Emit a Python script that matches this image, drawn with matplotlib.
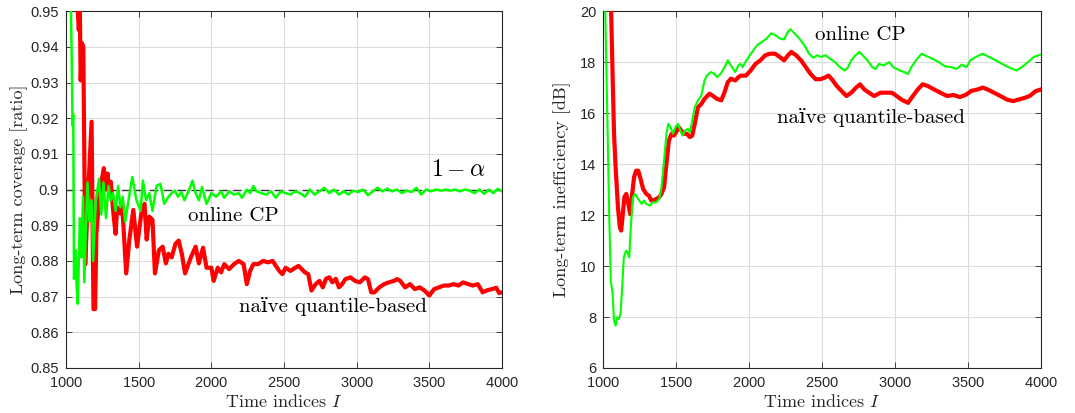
import matplotlib
matplotlib.use("Agg")
import matplotlib.pyplot as plt
from matplotlib.ticker import FuncFormatter

# long-term coverage, online CP
t_cov_online = [1000, 1030, 1040, 1045, 1050, 1055, 1066, 1073, 1081, 1095, 1106, 1117, 1126, 1139,
                1148, 1161, 1176, 1187, 1205, 1227, 1242, 1258, 1275, 1293, 1308, 1324, 1341, 1359,
                1374, 1390, 1407, 1430, 1456, 1485, 1513, 1529, 1551, 1573, 1595, 1623, 1650, 1676,
                1705, 1727, 1749, 1771, 1793, 1815, 1848, 1870, 1892, 1914, 1936, 1967, 2000, 2033,
                2067, 2089, 2122, 2156, 2189, 2211, 2244, 2267, 2289, 2311, 2344, 2378, 2411, 2444,
                2478, 2511, 2544, 2578, 2611, 2644, 2678, 2711, 2744, 2778, 2811, 2844, 2878, 2911,
                2944, 2978, 3011, 3044, 3078, 3111, 3144, 3178, 3211, 3244, 3278, 3311, 3344, 3378,
                3411, 3444, 3478, 3511, 3544, 3578, 3611, 3644, 3678, 3711, 3744, 3778, 3811, 3844,
                3878, 3911, 3940, 3970, 4000]
cov_online = [1.0, 0.96, 0.935, 0.918, 0.921, 0.875, 0.883, 0.873, 0.868, 0.892, 0.881, 0.898, 0.874, 0.892,
              0.902, 0.891, 0.897, 0.880, 0.897, 0.903, 0.893, 0.902, 0.892, 0.901, 0.897, 0.899, 0.894, 0.901,
              0.895, 0.898, 0.891, 0.897, 0.9035, 0.897, 0.894, 0.9025, 0.897, 0.899, 0.894, 0.901, 0.9016, 0.896,
              0.898, 0.899, 0.8997, 0.898, 0.8993, 0.897, 0.900, 0.9025, 0.899, 0.897, 0.9007, 0.896, 0.899, 0.898,
              0.8995, 0.8977, 0.8995, 0.8986, 0.899, 0.8977, 0.900, 0.899, 0.901, 0.8995, 0.899, 0.8986, 0.8995, 0.8977,
              0.8995, 0.899, 0.8986, 0.8995, 0.899, 0.898, 0.900, 0.8986, 0.8995, 0.9005, 0.899, 0.900, 0.8986, 0.8995,
              0.8986, 0.8997, 0.8993, 0.900, 0.8984, 0.8995, 0.9005, 0.8995, 0.9003, 0.8995, 0.900, 0.899, 0.8997, 0.8993,
              0.9005, 0.8986, 0.900, 0.8995, 0.900, 0.8997, 0.900, 0.8997, 0.900, 0.8995, 0.900, 0.8997, 0.899, 0.900,
              0.8988, 0.900, 0.899, 0.9002, 0.8995]

# long-term coverage, naive quantile-based
t_cov_naive = [1000, 1075, 1081, 1088, 1095, 1101, 1110, 1119, 1128, 1132, 1150, 1176, 1189, 1200, 1209,
               1231, 1260, 1275, 1286, 1297, 1308, 1326, 1341, 1352, 1374, 1385, 1414, 1436, 1463, 1489,
               1518, 1540, 1555, 1573, 1595, 1612, 1639, 1665, 1687, 1705, 1727, 1753, 1775, 1797, 1819,
               1859, 1892, 1914, 1943, 1967, 2000, 2016, 2044, 2067, 2089, 2122, 2156, 2189, 2222, 2244,
               2267, 2289, 2322, 2356, 2389, 2422, 2444, 2467, 2489, 2511, 2544, 2578, 2600, 2622, 2644,
               2667, 2689, 2718, 2744, 2767, 2789, 2811, 2833, 2856, 2878, 2900, 2922, 2956, 2989, 3022,
               3056, 3078, 3100, 3122, 3156, 3189, 3222, 3256, 3278, 3300, 3333, 3367, 3400, 3433, 3467,
               3500, 3533, 3567, 3600, 3633, 3667, 3700, 3733, 3767, 3800, 3833, 3867, 3900, 3940, 3960,
               3980, 4000]
cov_naive = [1.0, 0.97, 0.95, 0.9447, 0.951, 0.9306, 0.941, 0.940, 0.9007, 0.879, 0.897, 0.919, 0.8665, 0.8665, 0.8876,
             0.899, 0.906, 0.900, 0.9045, 0.899, 0.9022, 0.8933, 0.8876, 0.895, 0.8933, 0.897, 0.8765, 0.886, 0.8943, 0.884,
             0.8933, 0.896, 0.886, 0.8924, 0.8915, 0.8765, 0.883, 0.884, 0.8793, 0.882, 0.881, 0.8848, 0.8857, 0.882, 0.8765,
             0.881, 0.884, 0.8793, 0.8837, 0.8781, 0.8781, 0.8744, 0.8781, 0.8768, 0.8791, 0.8777, 0.8791, 0.880, 0.8791, 0.8735,
             0.8772, 0.8791, 0.8791, 0.880, 0.8796, 0.880, 0.8786, 0.8772, 0.8763, 0.8781, 0.8772, 0.8781, 0.8786, 0.8777, 0.8768,
             0.8763, 0.8717, 0.8735, 0.8744, 0.8726, 0.875, 0.8754, 0.874, 0.875, 0.8726, 0.8735, 0.8749, 0.8754, 0.8744, 0.874,
             0.8754, 0.8749, 0.8712, 0.8712, 0.8726, 0.8735, 0.874, 0.8744, 0.8749, 0.8744, 0.8726, 0.8735, 0.8721, 0.8726, 0.8717,
             0.8703, 0.8721, 0.8726, 0.8731, 0.8731, 0.8735, 0.8731, 0.874, 0.8735, 0.8731, 0.8735, 0.8712, 0.8718, 0.8722, 0.8725,
             0.871, 0.8712]

# long-term inefficiency [dB], online CP
t_ineff_online = [1000, 1013, 1027, 1042, 1053, 1064, 1075, 1086, 1097, 1108, 1119, 1131, 1142, 1157, 1168,
                  1179, 1190, 1204, 1219, 1241, 1263, 1280, 1296, 1319, 1341, 1363, 1385, 1400, 1418, 1434,
                  1447, 1462, 1478, 1496, 1513, 1529, 1544, 1562, 1580, 1595, 1611, 1628, 1650, 1673, 1695,
                  1712, 1739, 1761, 1783, 1805, 1832, 1854, 1876, 1905, 1927, 1943, 1956, 1967, 1989, 2022,
                  2056, 2089, 2122, 2151, 2178, 2211, 2240, 2267, 2284, 2311, 2344, 2378, 2411, 2440, 2467,
                  2493, 2522, 2556, 2589, 2622, 2656, 2678, 2700, 2729, 2756, 2778, 2811, 2844, 2867, 2889,
                  2922, 2960, 2989, 3033, 3067, 3089, 3111, 3144, 3182, 3218, 3256, 3300, 3344, 3389, 3422,
                  3456, 3489, 3516, 3544, 3578, 3600, 3644, 3689, 3733, 3778, 3833, 3867, 3911, 3950, 4000]
ineff_online = [30, 20.5, 16.5, 12.0, 9.4, 9.0, 7.86, 7.66, 7.99, 7.92, 8.12, 9.16, 10.34, 10.6, 10.54,
                10.34, 11.52, 12.7, 12.83, 12.63, 12.44, 12.57, 12.44, 12.37, 12.5, 12.5, 12.63, 13.09, 14.14, 15.19,
                15.58, 15.45, 15.19, 15.45, 15.58, 15.32, 15.12, 15.32, 15.38, 15.25, 15.71, 16.23, 16.5, 16.69, 17.28,
                17.48, 17.61, 17.54, 17.41, 17.54, 17.8, 18.07, 17.87, 17.61, 17.87, 17.93, 17.8, 17.93, 18.13, 18.4,
                18.67, 18.8, 18.93, 19.13, 19.07, 18.93, 18.89, 19.2, 19.29, 19.13, 18.93, 18.67, 18.33, 18.17, 18.27,
                18.2, 18.27, 18.13, 18.0, 17.8, 17.67, 17.8, 18.07, 18.27, 18.4, 18.27, 18.07, 17.8, 17.73, 17.93,
                17.87, 18.0, 17.8, 17.67, 17.6, 17.53, 17.8, 18.07, 18.33, 18.23, 18.13, 18.0, 17.83, 17.8, 17.73,
                17.9, 17.8, 18.07, 18.17, 18.27, 18.33, 18.2, 18.07, 17.93, 17.8, 17.67, 17.8, 18.0, 18.2, 18.3]

# long-term inefficiency [dB], naive quantile-based
t_ineff_naive = [1000, 1053, 1064, 1075, 1086, 1102, 1115, 1124, 1135, 1146, 1159, 1173, 1186, 1197, 1212,
                 1226, 1241, 1257, 1274, 1296, 1314, 1330, 1345, 1363, 1385, 1400, 1418, 1436, 1451, 1469,
                 1485, 1500, 1518, 1535, 1551, 1573, 1595, 1611, 1628, 1650, 1673, 1695, 1728, 1750, 1779,
                 1810, 1832, 1854, 1876, 1905, 1927, 1944, 1978, 2011, 2044, 2078, 2111, 2144, 2178, 2211,
                 2240, 2267, 2289, 2322, 2356, 2389, 2422, 2456, 2489, 2522, 2544, 2567, 2600, 2633, 2667,
                 2700, 2733, 2760, 2789, 2822, 2856, 2900, 2944, 2978, 3011, 3044, 3089, 3122, 3156, 3189,
                 3222, 3267, 3311, 3356, 3400, 3444, 3489, 3522, 3567, 3600, 3633, 3678, 3722, 3767, 3811,
                 3844, 3889, 3922, 3960, 4000]
ineff_naive = [40, 20.5, 17.8, 15.19, 13.88, 12.3, 11.52, 11.39, 12.04, 12.7, 12.83, 12.44, 12.04, 12.7, 13.48,
               13.74, 13.74, 13.42, 13.03, 12.83, 12.76, 12.57, 12.57, 12.63, 12.7, 12.83, 13.09, 14.14, 14.92, 15.19,
               15.12, 15.25, 15.45, 15.32, 15.19, 15.19, 15.06, 15.12, 15.58, 16.23, 16.36, 16.56, 16.76, 16.69, 16.56,
               16.5, 16.82, 17.21, 17.35, 17.28, 17.41, 17.47, 17.47, 17.67, 17.93, 18.07, 18.27, 18.33, 18.33, 18.2,
               18.07, 18.27, 18.4, 18.27, 18.07, 17.8, 17.53, 17.33, 17.33, 17.4, 17.47, 17.33, 17.07, 16.87, 16.67,
               16.8, 17.0, 17.13, 16.93, 16.8, 16.67, 16.8, 16.8, 16.8, 16.67, 16.53, 16.4, 16.67, 16.93, 17.13,
               17.07, 16.93, 16.8, 16.67, 16.71, 16.63, 16.73, 16.87, 16.93, 17.0, 16.93, 16.8, 16.67, 16.53, 16.47,
               16.53, 16.6, 16.67, 16.85, 16.93]

target_coverage = 0.9

GREEN = "#00ff00"
RED = "#ff0000"
DARK = "#262626"
SERIF = ["cmr10", "DejaVu Serif"]


def style_axes(ax):
    ax.grid(True, color="#dcdcdc", linewidth=0.8)
    ax.set_axisbelow(True)
    for s in ax.spines.values():
        s.set_color(DARK)
        s.set_linewidth(0.8)
    ax.tick_params(direction="in", top=True, right=True, length=4, width=0.6,
                   colors=DARK, labelsize=10.5)
    ax.tick_params(axis="x", pad=6)
    ax.tick_params(axis="y", pad=5)
    for lbl in ax.get_xticklabels() + ax.get_yticklabels():
        lbl.set_fontfamily("Liberation Sans")
    ax.yaxis.set_major_formatter(FuncFormatter(lambda v, p: "%g" % round(v, 4)))
    ax.set_xlabel(r"Time indices $I$", family=SERIF, fontsize=13, color=DARK, labelpad=2)


def main():
    plt.rcParams["mathtext.fontset"] = "cm"
    plt.rcParams["axes.formatter.use_mathtext"] = True

    fig = plt.figure(figsize=(10.75, 4.13), dpi=100)
    ax1 = fig.add_axes([0.0614, 0.109, 0.4056, 0.864])
    ax2 = fig.add_axes([0.561, 0.109, 0.4074, 0.864])

    # left: coverage
    ax1.axhline(target_coverage, color="#333333", linestyle=(0, (6, 4)), linewidth=1.0, zorder=2)
    ax1.plot(t_cov_naive, cov_naive, color=RED, linewidth=3.0, zorder=3)
    ax1.plot(t_cov_online, cov_online, color=GREEN, linewidth=1.8, zorder=4)
    ax1.set_xlim(1000, 4000)
    ax1.set_ylim(0.85, 0.95)
    ax1.set_xticks([1000, 1500, 2000, 2500, 3000, 3500, 4000])
    ax1.set_yticks([0.85 + 0.01 * k for k in range(11)])
    style_axes(ax1)
    ax1.set_ylabel("Long-term coverage [ratio]", family=SERIF, fontsize=13, color=DARK, labelpad=2)
    ax1.text(3700, 0.9058, r"$1-\alpha$", fontsize=17, ha="center", va="center")
    ax1.text(2148, 0.8925, "online CP", family=SERIF, fontsize=15, ha="center", va="center")
    ax1.text(2834, 0.8672, "naïve quantile-based", family=SERIF, fontsize=15, ha="center", va="center")

    # right: inefficiency
    ax2.plot(t_ineff_naive, ineff_naive, color=RED, linewidth=3.0, zorder=3)
    ax2.plot(t_ineff_online, ineff_online, color=GREEN, linewidth=1.5, zorder=4)
    ax2.set_xlim(1000, 4000)
    ax2.set_ylim(6, 20)
    ax2.set_xticks([1000, 1500, 2000, 2500, 3000, 3500, 4000])
    ax2.set_yticks([6, 8, 10, 12, 14, 16, 18, 20])
    style_axes(ax2)
    ax2.set_ylabel("Long-term inefficiency [dB]", family=SERIF, fontsize=13, color=DARK, labelpad=6)
    ax2.text(2762, 19.05, "online CP", family=SERIF, fontsize=15, ha="center", va="center")
    ax2.text(2836, 15.83, "naïve quantile-based", family=SERIF, fontsize=15, ha="center", va="center")

    fig.savefig("out.png", dpi=100)


if __name__ == "__main__":
    main()
